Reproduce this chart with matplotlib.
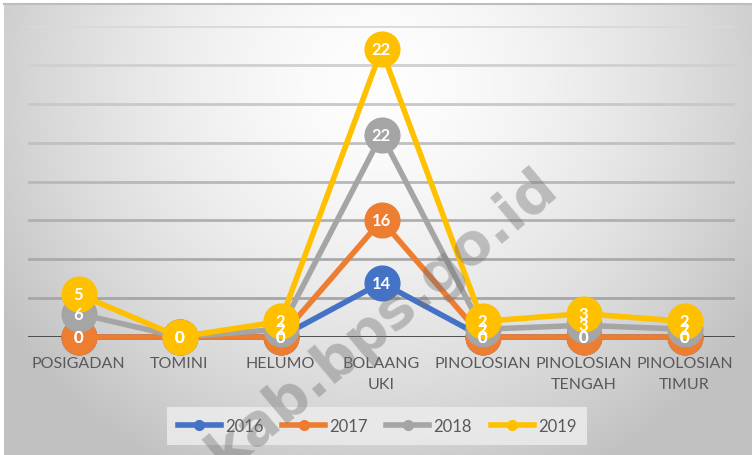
import numpy as np
import matplotlib.pyplot as plt
from matplotlib.lines import Line2D

categories = ['POSIGADAN', 'TOMINI', 'HELUMO', 'BOLAANG\nUKI', 'PINOLOSIAN',
              'PINOLOSIAN\nTENGAH', 'PINOLOSIAN\nTIMUR']
years = ['2016', '2017', '2018', '2019']
v2016 = [0, 0, 0, 14, 0, 0, 0]
v2017 = [0, 0, 0, 16, 0, 0, 0]
v2018 = [6, 0, 2, 22, 2, 3, 2]
v2019 = [5, 0, 2, 22, 2, 3, 2]
colors = ['#4472C4', '#ED7D31', '#A5A5A5', '#FFC000']

W, H = 752, 456
fig = plt.figure(figsize=(W / 100, H / 100), dpi=100)
fig.patch.set_facecolor('white')

# background: radial gradient, light centre, grey edges
bg = fig.add_axes([4 / W, 0, 1 - 4 / W, 1 - 5 / H])
yy, xx = np.mgrid[0:H, 0:W]
d = np.sqrt(((xx - 376) / 430.0) ** 2 + ((yy - 80) / 420.0) ** 2)
shade = np.clip(0.995 - 0.22 * d ** 1.6, 0.76, 1.0)
bg.imshow(np.dstack([shade] * 3), aspect='auto', extent=[0, 1, 0, 1])
bg.set_axis_off()
fig.add_artist(Line2D([4 / W, 1], [1 - 5 / H] * 2, color='#bdbdbd', lw=1.5))

ax = fig.add_axes([28 / W, 1 - 338 / H, 707 / W, 311 / H])
ax.patch.set_alpha(0)
x = np.arange(len(categories))
ax.set_xlim(-0.5, len(categories) - 0.5)
ax.set_ylim(0, 80)

grid_cols = ['#a6a6a6', '#aaaaaa', '#b0b0b0', '#b8b8b8', '#c0c0c0',
             '#c8c8c8', '#d0d0d0', '#d9d9d9']
for i, g in enumerate(range(10, 90, 10)):
    ax.axhline(g, color=grid_cols[i], lw=2, zorder=1)
ax.axhline(0, color='#404040', lw=2, zorder=1)

series = [v2016, v2017, v2018, v2019]
cum = np.cumsum(np.array(series), axis=0)
for s, vals in enumerate(series):
    ax.plot(x, cum[s], color=colors[s], lw=4, marker='o', ms=25,
            solid_capstyle='round', zorder=3 + s, clip_on=False)
for s, vals in enumerate(series):
    for i in range(len(x)):
        ax.text(x[i], cum[s][i], str(vals[i]), color='white', ha='center',
                va='center', fontsize=12, fontweight='bold', family='Lato',
                zorder=10)

ax.set_xticks(x)
ax.set_xticklabels(categories, fontsize=11.5, color='#595959', family='Lato',
                   linespacing=1.6, va='top')
ax.tick_params(axis='x', length=0, pad=14)
ax.set_yticks([])
for sp in ax.spines.values():
    sp.set_visible(False)

handles = [Line2D([], [], color=c, lw=4, marker='o', ms=7) for c in colors]
leg = fig.legend(handles, years, loc='center', bbox_to_anchor=(377 / W, 1 - 427 / H),
                 ncol=4, frameon=True, handlelength=2.6,
                 columnspacing=1.1, handletextpad=0.25, borderpad=0.45,
                 prop={'family': 'Lato', 'size': 12})
leg.get_frame().set_facecolor('#ececec')
leg.get_frame().set_edgecolor('none')
leg.get_frame().set_alpha(0.85)
leg.get_frame().set_boxstyle('square', pad=0.2)
for t in leg.get_texts():
    t.set_color('#595959')

fig.text(550 / W, 1 - 180 / H, 'kab.bps.go.id', rotation=40, ha='right',
         va='center', rotation_mode='anchor', fontsize=41, fontweight='bold',
         color='#707070', alpha=0.4, family='DejaVu Sans', zorder=20)

fig.savefig('out.png', dpi=100)
